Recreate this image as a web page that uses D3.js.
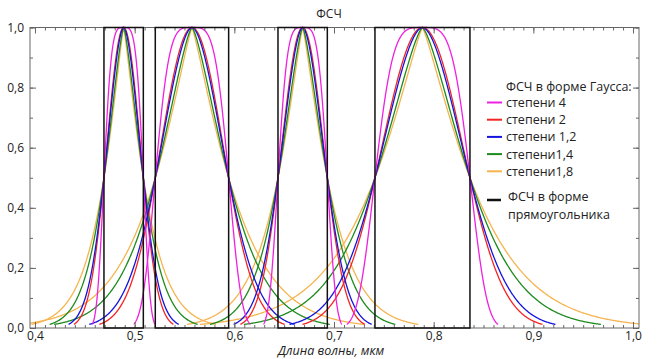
<!DOCTYPE html>
<html><head><meta charset="utf-8">
<script src="https://cdn.jsdelivr.net/npm/d3@7"></script>
<style>body{margin:0;background:#fff}svg{display:block}text{font-family:"Open Sans",sans-serif}</style>
</head><body><svg id="c" width="659" height="359"></svg>
<script>
// Band edges (rectangular spectral response functions), micrometres
const bandLo = [0.4692, 0.5207, 0.6438, 0.7411];
const bandHi = [0.5087, 0.5943, 0.6933, 0.8364];
// Gaussian-type response curves: exponent of each series, colour and legend label
const seriesPower = [4, 2, 1.8, 1.4, 1.2];
const seriesColor = ["#f020e0", "#f42424", "#1414dc", "#1e8a1e", "#f5b450"];
const seriesLabel = ["степени 4", "степени 2", "степени 1,2", "степени1,4", "степени1,8"];
const cutoff = 0.012; // curves are drawn down to this response level
const xTicks = [0.4, 0.5, 0.6, 0.7, 0.8, 0.9, 1.0];
const yTicks = [0, 0.2, 0.4, 0.6, 0.8, 1.0];

const svg = d3.select("#c");
const L = 30, R = 639, T = 27.5, B = 328;
const x = d3.scaleLinear().domain([0.395, 1.006]).range([L, R]);
const y = d3.scaleLinear().domain([0, 1]).range([B, T]);
const fmt = d => d3.format(".1f")(d).replace(".", ",");

svg.append("defs").append("clipPath").attr("id", "clip")
  .append("rect").attr("x", L).attr("y", T - 2).attr("width", R - L).attr("height", B - T + 2);

// curves
const plot = svg.append("g").attr("clip-path", "url(#clip)");
const line = d3.line().x(d => x(d[0])).y(d => y(d[1]));
const drawOrder = [4, 3, 1, 2, 0];
drawOrder.forEach(si => {
  const p = seriesPower[si];
  bandLo.forEach((lo, bi) => {
    const c = (lo + bandHi[bi]) / 2, h = (bandHi[bi] - lo) / 2;
    const umax = Math.pow(Math.log(1 / cutoff) / Math.LN2, 1 / p);
    const pts = d3.range(0, 401).map(i => {
      const u = -umax + 2 * umax * i / 400;
      return [c + u * h, Math.exp(-Math.LN2 * Math.pow(Math.abs(u), p))];
    });
    plot.append("path").attr("d", line(pts)).attr("fill", "none")
      .attr("stroke", seriesColor[si]).attr("stroke-width", 1.3);
  });
});

// axes
const ax = "#666";
const minorX = d3.range(40, 101).map(d => d / 100);
const minorY = d3.range(0, 11).map(d => d / 10);
const gB = svg.append("g").attr("transform", `translate(0,${B})`)
  .call(d3.axisBottom(x).tickValues(minorX).tickSize(-3).tickFormat(""));
const gB2 = svg.append("g").attr("transform", `translate(0,${B})`)
  .call(d3.axisBottom(x).tickValues(xTicks).tickSize(-6).tickPadding(3).tickFormat(fmt));
const gT = svg.append("g").attr("transform", `translate(0,${T})`)
  .call(d3.axisTop(x).tickValues(minorX).tickSize(-3).tickFormat(""));
const gT2 = svg.append("g").attr("transform", `translate(0,${T})`)
  .call(d3.axisTop(x).tickValues(xTicks).tickSize(-6).tickFormat(""));
const gL = svg.append("g").attr("transform", `translate(${L},0)`)
  .call(d3.axisLeft(y).tickValues(minorY).tickSize(-3).tickFormat(""));
const gL2 = svg.append("g").attr("transform", `translate(${L},0)`)
  .call(d3.axisLeft(y).tickValues(yTicks).tickSize(-6).tickPadding(6).tickFormat(fmt));
const gR = svg.append("g").attr("transform", `translate(${R},0)`)
  .call(d3.axisRight(y).tickValues(minorY).tickSize(-3).tickFormat(""));
const gR2 = svg.append("g").attr("transform", `translate(${R},0)`)
  .call(d3.axisRight(y).tickValues(yTicks).tickSize(-6).tickFormat(""));
[gB, gB2, gT, gT2, gL, gL2, gR, gR2].forEach(g => {
  g.select(".domain").remove();
  g.selectAll("line").attr("stroke", ax);
  g.selectAll("text").attr("fill", "#222").style("font-size", "12px").style("font-family", "'Open Sans',sans-serif");
});
svg.append("rect").attr("x", L).attr("y", T).attr("width", R - L).attr("height", B - T)
  .attr("fill", "none").attr("stroke", ax).attr("stroke-width", 1);

// rectangles (rectangular response functions), drawn over the frame
bandLo.forEach((lo, bi) => {
  svg.append("rect").attr("x", x(lo)).attr("y", y(1))
    .attr("width", x(bandHi[bi]) - x(lo)).attr("height", y(0) - y(1))
    .attr("fill", "none").attr("stroke", "#111").attr("stroke-width", 1.5);
});

// titles
svg.append("text").attr("x", 329).attr("y", 18).attr("text-anchor", "middle")
  .style("font-size", "12px").attr("fill", "#222").text("ФСЧ");
svg.append("text").attr("x", 331).attr("y", 355).attr("text-anchor", "middle")
  .style("font-size", "12.5px").style("font-style", "italic").attr("fill", "#222").text("Длина волны, мкм");

// legend
const lg = svg.append("g");
lg.append("text").attr("x", 506).attr("y", 90.5).style("font-size", "12.5px").attr("fill", "#222").text("ФСЧ в форме Гаусса:");
seriesLabel.forEach((t, i) => {
  const cy = 102.5 + i * 17.2;
  lg.append("line").attr("x1", 487).attr("x2", 502).attr("y1", cy).attr("y2", cy)
    .attr("stroke", seriesColor[i]).attr("stroke-width", 2);
  lg.append("text").attr("x", 506).attr("y", cy + 4.5).style("font-size", "12.5px").attr("fill", "#222").text(t);
});
lg.append("line").attr("x1", 487).attr("x2", 501).attr("y1", 200).attr("y2", 200)
  .attr("stroke", "#111").attr("stroke-width", 2.5);
lg.append("text").attr("x", 508).attr("y", 201).style("font-size", "12.5px").attr("fill", "#222").text("ФСЧ в форме");
lg.append("text").attr("x", 508).attr("y", 218.5).style("font-size", "12.5px").attr("fill", "#222").text("прямоугольника");
</script></body></html>
